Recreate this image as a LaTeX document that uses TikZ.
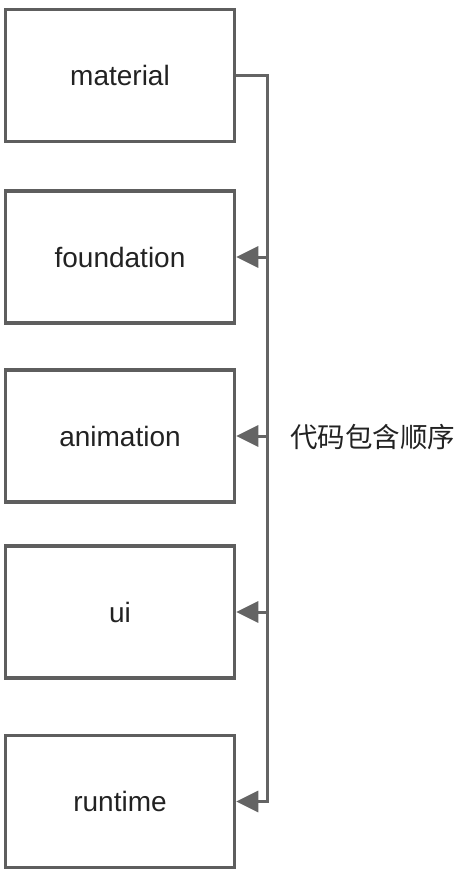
\documentclass[tikz,border=0pt]{standalone}
\usepackage{fontspec}
\setmainfont{Liberation Sans}
\newfontfamily\cjk{Noto Sans CJK SC}
\usetikzlibrary{arrows.meta}
\definecolor{boxline}{HTML}{5E5E5E}
\definecolor{conn}{HTML}{646464}
\definecolor{txt}{HTML}{222222}
\tikzset{
  modbox/.style={draw=boxline, line width=3.5pt, minimum width=229pt, minimum height=132pt,
    inner sep=0pt, text=txt, font=\fontsize{28}{33}\selectfont},
  link/.style={draw=conn, line width=3pt},
  arr/.style={link, -{Triangle[length=22pt,width=21pt]}}
}
\begin{document}
\begin{tikzpicture}[x=1pt,y=-1pt]
\useasboundingbox (0,0) rectangle (468,877);
\node[modbox] (material) at (120,75.5) {material};
\node[modbox] (foundation) at (120,257) {foundation};
\node[modbox] (animation) at (120,436) {animation};
\node[modbox] (ui) at (120,612) {ui};
\node[modbox] (runtime) at (120,801.5) {runtime};
\coordinate (t0) at (267,75.5);
\coordinate (t1) at (267,257);
\coordinate (t2) at (267,436);
\coordinate (t3) at (267,612);
\coordinate (t4) at (267,801.5);
\draw[arr] (material.east) -- (t0) -- (t4) -- (runtime.east);
\draw[arr] (t1) -- (foundation.east);
\draw[arr] (t2) -- (animation.east);
\draw[arr] (t3) -- (ui.east);
\node[anchor=west, inner sep=0pt, text=txt, font=\cjk\fontsize{27.5}{32}\selectfont] (label) at (290,437) {代码包含顺序};
\end{tikzpicture}
\end{document}
